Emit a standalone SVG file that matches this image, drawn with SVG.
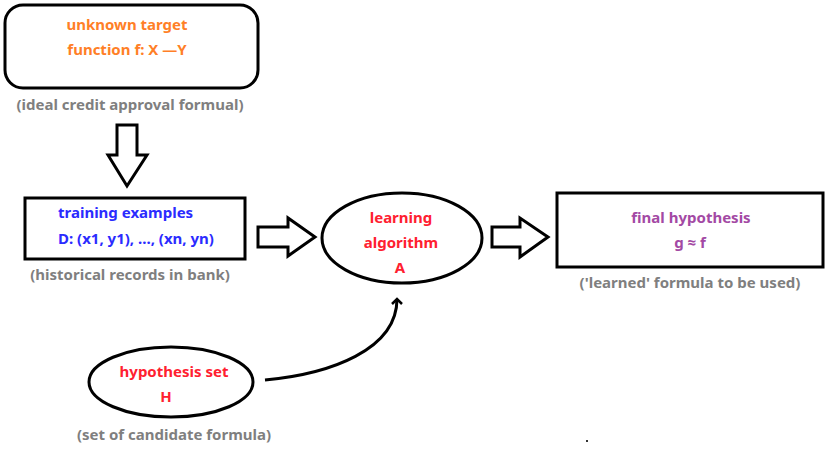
<svg xmlns="http://www.w3.org/2000/svg" width="830" height="450" viewBox="0 0 830 450">
<defs>
<style>
text{font-family:"Noto Sans","Open Sans","Liberation Sans",sans-serif;font-weight:bold;font-size:15px}
.shape{fill:#fff;stroke:#000;stroke-width:3}
.cap{fill:#7f7f7f;text-anchor:middle}
.or{fill:#ff7f27;text-anchor:middle}
.bl{fill:#2b2bff}
.rd{fill:#ff2030;text-anchor:middle}
.pu{fill:#a349a4;text-anchor:middle}
.blk{fill:#fff;stroke:#000;stroke-width:3;stroke-linejoin:miter}
</style>
<marker id="chev" markerWidth="12" markerHeight="12" refX="6" refY="6" orient="auto" markerUnits="userSpaceOnUse">
<path d="M1,1 L6,6 L1,11" fill="none" stroke="#000" stroke-width="2.5"/>
</marker>
</defs>
<rect width="830" height="450" fill="#fff"/>
<g id="target">
<rect class="shape" x="5" y="5" width="253" height="83" rx="18"/>
<text class="or" x="127" y="30">unknown target</text>
<text class="or" x="127" y="55">function f: X —Y</text>
<text class="cap" x="130" y="110">(ideal credit approval formual)</text>
</g>
<g id="training">
<rect class="shape" x="25" y="198" width="220" height="61"/>
<text class="bl" x="58" y="218">training examples</text>
<text class="bl" x="58" y="244">D: (x1, y1), ..., (xn, yn)</text>
<text class="cap" x="130" y="280">(historical records in bank)</text>
</g>
<g id="learning">
<ellipse class="shape" cx="402" cy="238" rx="80" ry="45"/>
<text class="rd" x="401" y="223">learning</text>
<text class="rd" x="401" y="248">algorithm</text>
<text class="rd" x="400" y="273">A</text>
</g>
<g id="final">
<rect class="shape" x="557" y="193" width="266" height="74"/>
<text class="pu" x="691" y="223">final hypothesis</text>
<text class="pu" x="690" y="248">g ≈ f</text>
<text class="cap" x="690" y="288">('learned' formula to be used)</text>
</g>
<g id="hypset">
<ellipse class="shape" cx="171" cy="382" rx="82" ry="35"/>
<text class="rd" x="174" y="377">hypothesis set</text>
<text class="rd" x="166" y="402">H</text>
<text class="cap" x="174" y="440">(set of candidate formula)</text>
</g>
<g id="connectors">
<path class="blk" d="M117,125 H137 V155 H147 L127,186 L108,155 H117 Z"/>
<path class="blk" d="M258,227 H288 V218 L315,237 L288,256 V247 H258 Z"/>
<path class="blk" d="M492,227 H520 V218 L548,237 L520,257 V247 H492 Z"/>
<path d="M265,380 C330,374 397,350 397,299" fill="none" stroke="#000" stroke-width="3" marker-end="url(#chev)"/>
</g>
<rect x="586" y="440" width="2" height="2" fill="#333"/>
</svg>
